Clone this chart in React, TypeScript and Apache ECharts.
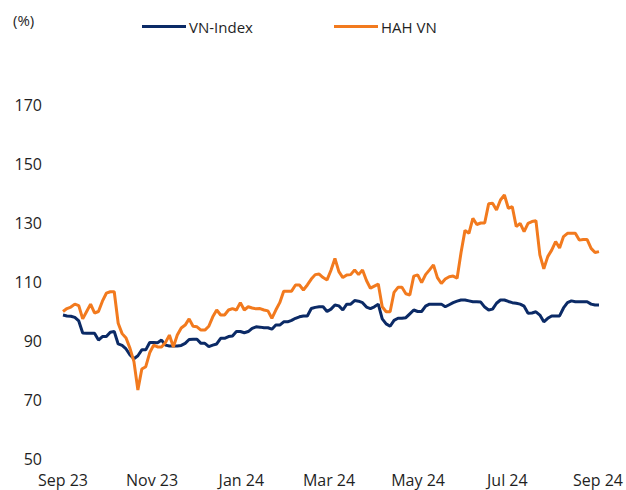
import React, { useEffect, useRef } from 'react';
import * as echarts from 'echarts';

const xTickLabels = ['Sep 23', 'Nov 23', 'Jan 24', 'Mar 24', 'May 24', 'Jul 24', 'Sep 24'];
// positions of the month ticks, in sample-index units (1st of each month)
const xTickPositions = [0, 22.6, 45.25, 67.5, 90.1, 112.75, 135.75];
const seriesNames = ['VN-Index', 'HAH VN'];

const vnIndex = [
  98.8, 98.5, 98.4, 98, 96.8, 92.7, 92.6, 92.6, 92.6, 90.3,
  91.5, 91.5, 93, 93.2, 89, 88.5, 87.3, 85.3, 84, 85,
  87, 87, 89.5, 89.5, 89.4, 90.3, 88.6, 88.3, 88.3, 88.3,
  88.5, 89.2, 90.5, 90.6, 90.6, 89.2, 89.2, 88.1, 88.6, 89,
  90.9, 90.9, 91.5, 91.7, 93.2, 93.2, 92.8, 93.2, 94.3, 94.8,
  94.7, 94.5, 94.5, 94, 95.4, 95.4, 96.5, 96.5, 97, 97.7,
  98.2, 98.5, 98.5, 101, 101.4, 101.6, 101.6, 100, 100.8, 102.2,
  101.9, 100.5, 102.5, 102.5, 103.7, 103.5, 103, 101.5, 101, 101.6,
  102.5, 97.5, 95.8, 95, 97, 97.7, 97.7, 97.9, 99.2, 100.5,
  100, 100, 101.8, 102.5, 102.5, 102.5, 102.5, 101.6, 102.3, 103,
  103.5, 103.9, 103.9, 103.6, 103.3, 103.3, 103.2, 101.5, 100.5, 100.8,
  102.8, 103.9, 103.9, 103.4, 103, 102.8, 102.5, 101.8, 99.4, 99.5,
  99.9, 98.8, 96.5, 97.7, 98.5, 98.5, 98.5, 101.2, 103, 103.6,
  103.3, 103.3, 103.3, 103.3, 102.5, 102.2, 102.2,
];

const hahVn = [
  100, 101, 101.5, 102.5, 102, 97.5, 100, 102.5, 99.5, 100,
  103.5, 106.2, 106.7, 106.7, 96, 92.5, 91, 87.5, 83, 73.4,
  80.5, 81.3, 86, 88.6, 88, 88, 89.5, 92, 88, 92,
  94.4, 95.4, 97.5, 95, 94.8, 93.7, 93.7, 95, 98.2, 100.5,
  98.8, 98.8, 100.5, 101, 100.5, 103, 100.5, 101.6, 101.2, 100.9,
  101, 100.5, 100.2, 97.7, 100.5, 103, 106.9, 106.9, 106.9, 109,
  109, 107.3, 109, 111, 112.5, 112.7, 111.5, 110.7, 114, 118,
  113.5, 111.5, 112.4, 112.5, 114.1, 112.5, 114.1, 110.5, 107.9, 108.6,
  109.3, 101.6, 99.9, 99.9, 106.5, 108.2, 108.2, 106, 105.6, 112,
  112.4, 109.8, 112.5, 114.1, 115.8, 111.5, 109.5, 111, 111.8, 112,
  111.3, 120, 127.5, 126.5, 131.6, 129.5, 130, 130, 136.5, 136.7,
  134.4, 137.8, 139.5, 135, 135.5, 128.8, 129.9, 127.1, 129.9, 130.5,
  130.8, 119.2, 114.5, 118.6, 120.8, 123.7, 121.5, 125.4, 126.5, 126.5,
  126.5, 124.2, 124.4, 124.4, 121.4, 120, 120.3,
];

const NAVY = '#0b2a66';
const ORANGE = '#f27a1e';
const TEXT = '#1f1f1f';
const FONT = '"Open Sans", "Noto Sans", sans-serif';

export default function App() {
  const ref = useRef<HTMLDivElement>(null);
  useEffect(() => {
    document.body.style.margin = '0';
    const chart = echarts.init(ref.current!, null, { renderer: 'svg' });
    const legendBase = {
      top: 19,
      padding: 0,
      icon: 'rect',
      itemWidth: 44,
      itemHeight: 3,
      textStyle: { fontSize: 15, color: TEXT, fontFamily: FONT, padding: [0, 0, 0, -2] },
    };
    chart.setOption({
      animation: false,
      backgroundColor: '#ffffff',
      textStyle: { fontFamily: FONT, color: TEXT },
      grid: { left: 63, right: 19, top: 105, bottom: 31, containLabel: false },
      legend: [
        { ...legendBase, data: [seriesNames[0]], left: 142 },
        { ...legendBase, data: [seriesNames[1]], left: 334 },
      ],
      graphic: [
        {
          type: 'text',
          left: 13,
          top: 12,
          style: { text: '(%)', font: `15px ${FONT}`, fill: TEXT },
        },
      ],
      xAxis: {
        type: 'value',
        min: 0,
        max: vnIndex.length - 1,
        axisLine: { show: false },
        axisTick: { show: false, customValues: xTickPositions },
        splitLine: { show: false },
        axisLabel: {
          margin: 13,
          fontSize: 16,
          color: TEXT,
          fontFamily: FONT,
          customValues: xTickPositions,
          formatter: (v: number) => {
            const k = xTickPositions.findIndex((p) => Math.abs(p - v) < 1e-6);
            return k >= 0 ? xTickLabels[k] : '';
          },
        },
      },
      yAxis: {
        type: 'value',
        min: 50,
        max: 170,
        interval: 20,
        axisLine: { show: false },
        axisTick: { show: false },
        splitLine: { show: false },
        axisLabel: { margin: 21, fontSize: 16, color: TEXT, fontFamily: FONT },
      },
      series: [
        {
          name: seriesNames[0],
          type: 'line',
          data: vnIndex.map((v, i) => [i, v]),
          showSymbol: false,
          symbol: 'none',
          lineStyle: { color: NAVY, width: 3 },
          itemStyle: { color: NAVY },
        },
        {
          name: seriesNames[1],
          type: 'line',
          data: hahVn.map((v, i) => [i, v]),
          showSymbol: false,
          symbol: 'none',
          lineStyle: { color: ORANGE, width: 3 },
          itemStyle: { color: ORANGE },
        },
      ],
    });
    return () => chart.dispose();
  }, []);
  return <div ref={ref} style={{ width: 626, height: 490 }} />;
}
